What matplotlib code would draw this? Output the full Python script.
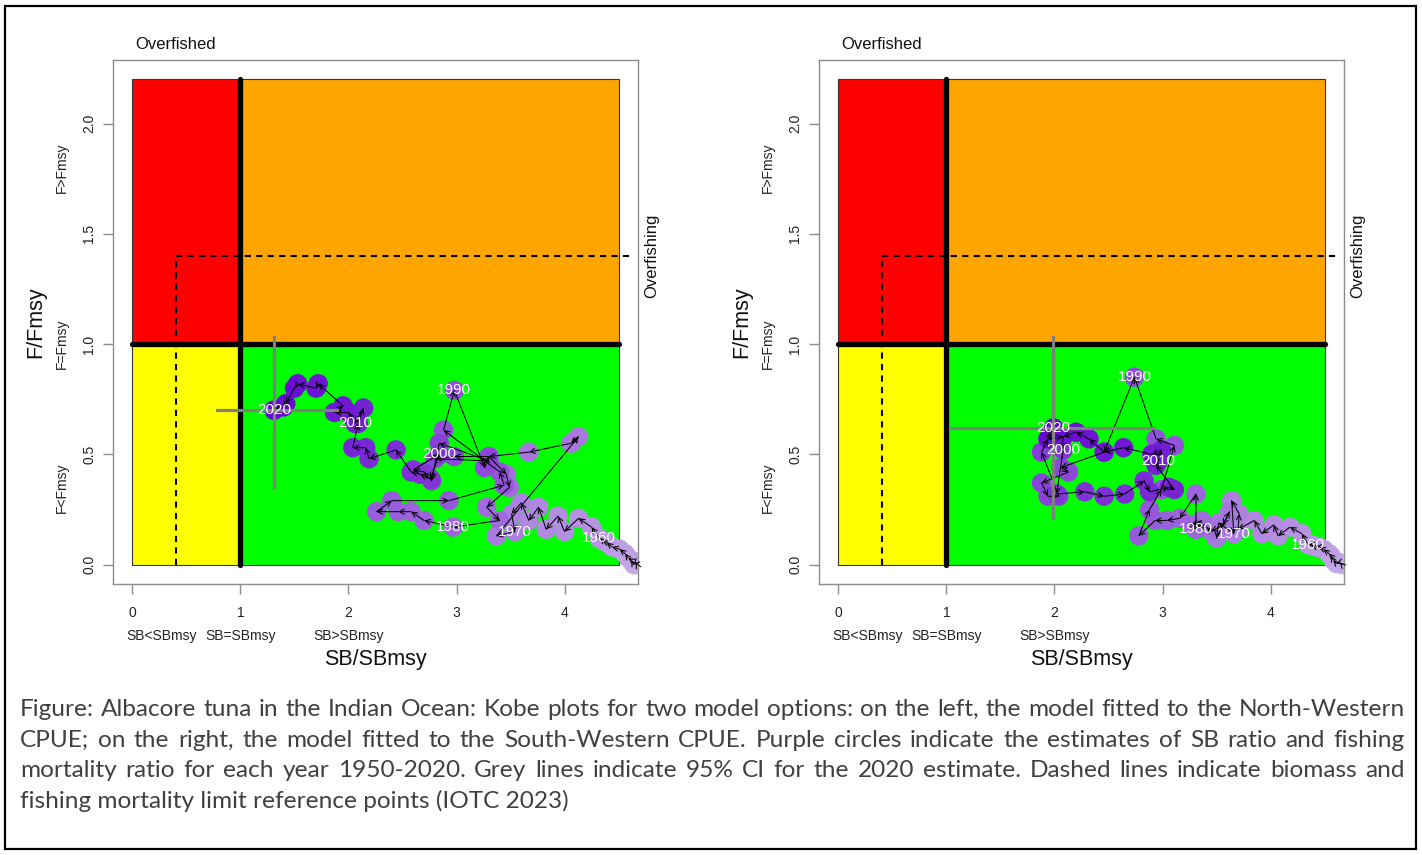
import numpy as np
import matplotlib
matplotlib.use("Agg")
import matplotlib.pyplot as plt
from matplotlib.patches import Rectangle
from matplotlib.transforms import blended_transform_factory

years = list(range(1950, 2021))
label_years = [1960, 1970, 1980, 1990, 2000, 2010, 2020]

# left panel: model fitted to the North-Western CPUE
nw_sb = [4.67, 4.66, 4.64, 4.62, 4.59, 4.56, 4.51, 4.44, 4.39, 4.35,
         4.32, 4.25, 4.13, 4.00, 3.94, 3.83, 3.76, 3.67, 3.60, 3.51,
         3.54, 3.37, 4.13, 4.06, 3.67, 3.30, 3.46, 3.49, 3.28, 3.40,
         2.97, 2.70, 2.58, 2.46, 2.26, 2.40, 2.93, 3.44, 3.40, 2.88,
         2.98, 3.26, 3.30, 2.98, 2.80, 3.30, 2.84, 2.77, 2.70, 2.60,
         2.84, 2.76, 2.66, 2.58, 2.44, 2.19, 2.16, 2.04, 2.09, 2.14,
         2.06, 2.00, 1.87, 1.95, 1.72, 1.70, 1.53, 1.50, 1.42, 1.40,
         1.31]
nw_f = [0.00, 0.01, 0.00, 0.02, 0.03, 0.05, 0.07, 0.08, 0.10, 0.11,
        0.12, 0.17, 0.21, 0.15, 0.22, 0.16, 0.26, 0.20, 0.28, 0.23,
        0.15, 0.13, 0.58, 0.55, 0.51, 0.49, 0.41, 0.35, 0.26, 0.20,
        0.17, 0.20, 0.24, 0.24, 0.24, 0.29, 0.29, 0.36, 0.42, 0.61,
        0.79, 0.44, 0.49, 0.49, 0.48, 0.47, 0.55, 0.38, 0.42, 0.43,
        0.50, 0.39, 0.41, 0.42, 0.52, 0.48, 0.53, 0.53, 0.64, 0.71,
        0.64, 0.69, 0.69, 0.72, 0.82, 0.80, 0.82, 0.80, 0.73, 0.715,
        0.70]
nw_ci_sb = [0.78, 1.89]
nw_ci_f = [0.35, 1.03]

# right panel: model fitted to the South-Western CPUE
sw_sb = [4.66, 4.64, 4.61, 4.58, 4.56, 4.54, 4.49, 4.45, 4.42, 4.38,
         4.35, 4.29, 4.18, 4.07, 4.03, 3.92, 3.85, 3.70, 3.71, 3.64,
         3.66, 3.52, 3.50, 3.62, 3.56, 3.45, 3.41, 3.33, 3.36, 3.27,
         3.31, 3.31, 3.16, 3.04, 2.93, 2.78, 2.88, 2.99, 3.11, 2.94,
         2.74, 2.46, 2.06, 2.13, 1.88, 1.94, 2.04, 1.88, 1.94, 2.08,
         2.08, 2.02, 2.28, 2.46, 2.65, 2.83, 2.88, 3.06, 3.11, 2.94,
         2.96, 2.99, 2.90, 2.64, 2.46, 2.32, 2.20, 2.08, 1.94, 1.97,
         1.99]
sw_f = [0.00, 0.01, 0.005, 0.02, 0.04, 0.05, 0.07, 0.08, 0.08, 0.09,
        0.09, 0.14, 0.17, 0.13, 0.18, 0.14, 0.20, 0.16, 0.23, 0.29,
        0.14, 0.19, 0.12, 0.24, 0.18, 0.15, 0.17, 0.17, 0.20, 0.18,
        0.16, 0.32, 0.21, 0.20, 0.20, 0.13, 0.25, 0.34, 0.54, 0.57,
        0.85, 0.51, 0.44, 0.42, 0.37, 0.31, 0.31, 0.51, 0.57, 0.58,
        0.52, 0.32, 0.33, 0.31, 0.32, 0.38, 0.33, 0.35, 0.34, 0.45,
        0.47, 0.52, 0.50, 0.53, 0.51, 0.57, 0.60, 0.58, 0.57, 0.60,
        0.62]
sw_ci_sb = [1.03, 2.92]
sw_ci_f = [0.21, 1.03]

sb_lim = 0.4
f_lim = 1.4

caption = [
    "Figure: Albacore tuna in the Indian Ocean: Kobe plots for two model options: on the left, the model fitted to the North-Western",
    "CPUE; on the right, the model fitted to the South-Western CPUE. Purple circles indicate the estimates of SB ratio and fishing",
    "mortality ratio for each year 1950-2020. Grey lines indicate 95% CI for the 2020 estimate. Dashed lines indicate biomass and",
    "fishing mortality limit reference points (IOTC 2023)",
]

W, H = 1422, 855
plt.rcParams['font.family'] = ['Liberation Sans', 'DejaVu Sans']

fig = plt.figure(figsize=(W / 100, H / 100), dpi=100)
fig.patch.set_facecolor('white')

light = np.array([0.78, 0.68, 0.90])
dark = np.array([0.40, 0.03, 0.82])
t = np.linspace(0, 1, len(years))[:, None]
point_cols = light + (dark - light) * t

frame_col = '#8c8c8c'


def kobe(ax, sb, f, ci_sb, ci_f):
    ax.set_xlim(-0.18, 4.68)
    ax.set_ylim(-0.088, 2.288)

    # quadrants
    ax.add_patch(Rectangle((0, 1), 1, 1.2, fc='#ff0000', ec='#333333', lw=0.8, zorder=1))
    ax.add_patch(Rectangle((1, 1), 3.5, 1.2, fc='#ffa500', ec='#333333', lw=0.8, zorder=1))
    ax.add_patch(Rectangle((0, 0), 1, 1, fc='#ffff00', ec='#333333', lw=0.8, zorder=1))
    ax.add_patch(Rectangle((1, 0), 3.5, 1, fc='#00ff00', ec='#333333', lw=0.8, zorder=1))
    ax.plot([1, 1], [0, 2.2], color='black', lw=3.8, solid_capstyle='round', zorder=2)
    ax.plot([0, 4.5], [1, 1], color='black', lw=3.8, solid_capstyle='round', zorder=2)

    # limit reference points
    ax.plot([sb_lim, sb_lim], [0, f_lim], color='black', lw=1.5, dashes=(3, 2.5), zorder=2)
    ax.plot([sb_lim, 4.64], [f_lim, f_lim], color='black', lw=1.5, dashes=(3, 2.5), zorder=2)

    ax.scatter(sb, f, s=195, c=point_cols, edgecolors='none', zorder=3)
    for i in range(len(sb) - 1):
        ax.annotate('', xy=(sb[i + 1], f[i + 1]), xytext=(sb[i], f[i]),
                    arrowprops=dict(arrowstyle='->', color='black', lw=0.75,
                                    shrinkA=0, shrinkB=0, mutation_scale=9),
                    zorder=4)

    # 95% CI of the last year
    ax.plot(ci_sb, [f[-1], f[-1]], color='#808080', lw=2.3, zorder=5)
    ax.plot([sb[-1], sb[-1]], ci_f, color='#808080', lw=2.3, zorder=5)

    for yr in label_years:
        i = years.index(yr)
        ax.text(sb[i], f[i], str(yr), color='white', ha='center', va='center',
                fontsize=11, zorder=6)

    for s in ax.spines.values():
        s.set_color(frame_col)
        s.set_linewidth(1.0)
    ax.set_xticks([0, 1, 2, 3, 4])
    ax.set_yticks([0, 0.5, 1, 1.5, 2])
    ax.set_yticklabels(['0.0', '0.5', '1.0', '1.5', '2.0'], rotation=90, va='center')
    ax.tick_params(direction='out', length=7, width=1, color=frame_col,
                   labelsize=10, labelcolor='#222222')
    ax.tick_params(axis='x', pad=9)
    ax.tick_params(axis='y', pad=5)

    tx = blended_transform_factory(ax.transData, ax.transAxes)
    ty = blended_transform_factory(ax.transAxes, ax.transData)
    for xv, s in zip([0.27, 1.0, 2.0], ['SB<SBmsy', 'SB=SBmsy', 'SB>SBmsy']):
        ax.text(xv, -0.10, s, transform=tx, ha='center', va='center', fontsize=10, color='#222222')
    for yv, s in zip([0.35, 1.0, 1.8], ['F<Fmsy', 'F=Fmsy', 'F>Fmsy']):
        ax.text(-0.097, yv, s, transform=ty, ha='center', va='center', fontsize=10,
                rotation=90, color='#222222')
    ax.text(0.5, -0.145, 'SB/SBmsy', transform=ax.transAxes, ha='center', va='center',
            fontsize=15.5, color='#111111')
    ax.text(-0.148, 0.5, 'F/Fmsy', transform=ax.transAxes, ha='center', va='center',
            fontsize=15.5, rotation=90, color='#111111')
    ax.text(sb_lim, 1.0295, 'Overfished', transform=tx, ha='center', va='center',
            fontsize=12, color='#111111')
    ax.text(1.027, f_lim, 'Overfishing', transform=ty, ha='center', va='center',
            fontsize=12, rotation=90, color='#111111')


axL = fig.add_axes([113 / W, 1 - 584 / H, 525 / W, 524 / H])
axR = fig.add_axes([819 / W, 1 - 584 / H, 525 / W, 524 / H])
kobe(axL, nw_sb, nw_f, nw_ci_sb, nw_ci_f)
kobe(axR, sw_sb, sw_f, sw_ci_sb, sw_ci_f)

# outer frame
fig.add_artist(Rectangle((5 / W, 6 / H), 1411 / W, 843 / H, transform=fig.transFigure,
                         fill=False, ec='black', lw=1.6))

# justified caption
renderer = fig.canvas.get_renderer()
cap_font = ['Lato', 'DejaVu Sans']
cap_col = '#404040'


def text_width(s, size):
    tt = fig.text(0, 0, s, fontsize=size, family=cap_font)
    w = tt.get_window_extent(renderer).width
    tt.remove()
    return w


x0, x1 = 20, 1405
size = 12 * 553 / text_width(caption[-1], 12)
longest = max(text_width(l, size) for l in caption[:-1])
if longest > (x1 - x0) * 0.99:
    size *= (x1 - x0) * 0.99 / longest

base = [716, 747, 777, 808]
for k, line in enumerate(caption):
    y = 1 - base[k] / H
    if k == len(caption) - 1:
        fig.text(x0 / W, y, line, fontsize=size, family=cap_font, color=cap_col,
                 ha='left', va='baseline')
        continue
    words = line.split(' ')
    widths = [text_width(w, size) for w in words]
    gap = (x1 - x0 - sum(widths)) / (len(words) - 1)
    x = x0
    for w, wd in zip(words, widths):
        fig.text(x / W, y, w, fontsize=size, family=cap_font, color=cap_col,
                 ha='left', va='baseline')
        x += wd + gap

fig.savefig('out.png', dpi=100, facecolor='white')
